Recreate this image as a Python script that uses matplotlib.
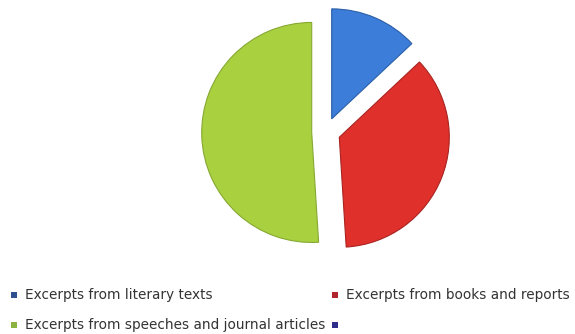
import matplotlib.pyplot as plt
from matplotlib.patches import Rectangle

# data
labels = ["Excerpts from literary texts", "Excerpts from books and reports",
          "Excerpts from speeches and journal articles", ""]
values = [13, 36, 51, 0]
pie_colors = ["#3B7DD8", "#E0302B", "#A9D13F", "#2E2E8A"]
edge_colors = ["#2C5FA8", "#A82420", "#86A832", "#2E2E8A"]
legend_colors = ["#2F4F8F", "#B0262A", "#8CB33F", "#2E2E8A"]

fig = plt.figure(figsize=(5.75, 3.34), dpi=100)
W, H = 575, 334

# pie: centre ~ (326, 132) px from top-left, radius ~110 px
r_px = 110
lim = 1.2
size = 2 * lim * r_px
cx, cy = 326, 132
ax = fig.add_axes([(cx - size / 2) / W, (H - cy - size / 2) / H, size / W, size / H])
vals = [v for v in values if v > 0]
wedges, _ = ax.pie(vals, colors=pie_colors[:len(vals)], startangle=90, counterclock=False,
                   explode=[0.13] * len(vals),
                   wedgeprops=dict(linewidth=0.8))
for w, ec in zip(wedges, edge_colors):
    w.set_edgecolor(ec)
    w.set_clip_on(False)
ax.set_xlim(-lim, lim)
ax.set_ylim(-lim, lim)
ax.set_aspect("equal")
ax.axis("off")

# legend laid out in two columns like the original
col_x = [11, 332]
row_y = [295, 325]
positions = [(0, 0), (1, 0), (0, 1), (1, 1)]
for lab, col, (c, r) in zip(labels, legend_colors, positions):
    x = col_x[c]
    y = row_y[r]
    fig.add_artist(Rectangle((x / W, (H - y - 3) / H), 6 / W, 6 / H,
                             transform=fig.transFigure, facecolor=col, edgecolor="none"))
    fig.text((x + 14) / W, (H - y) / H, lab, fontsize=9.8, color="#333333",
             va="center", ha="left", family="DejaVu Sans")

fig.savefig("out.png", dpi=100)
